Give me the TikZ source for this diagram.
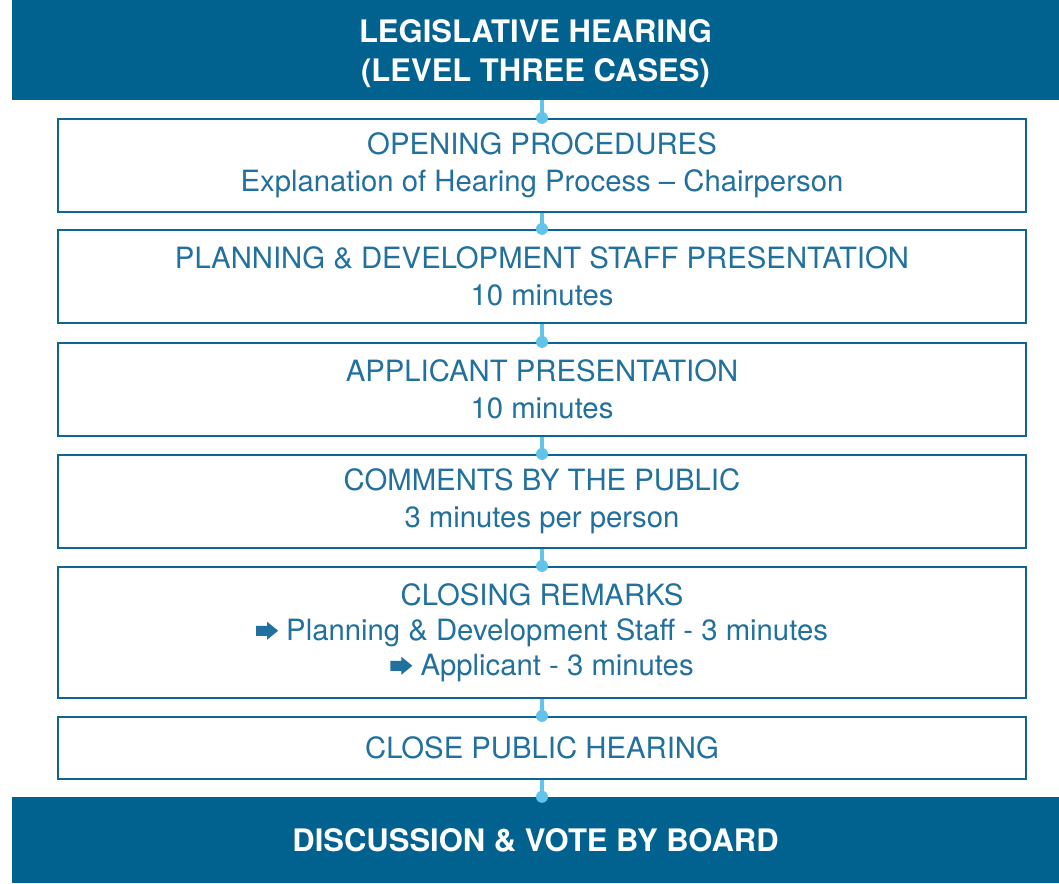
\documentclass[tikz,border=0pt]{standalone}
\usepackage{fontspec}
\setmainfont{TeX Gyre Heros}
\definecolor{bannerblue}{HTML}{02628F}
\definecolor{boxline}{HTML}{0E6591}
\definecolor{boxtext}{HTML}{22709E}
\definecolor{linkblue}{HTML}{62C3EC}
\newcommand{\pointer}{\tikz[x=1pt,y=1pt,baseline=-9.5pt]\fill (0,5)--(11,5)--(11,9)--(22,0)--(11,-9)--(11,-5)--(0,-5)--cycle;\ }

\begin{document}
\begin{tikzpicture}[x=1pt,y=1pt,
  banner/.style={fill=bannerblue, text=white, font=\bfseries\fontsize{31}{39}\selectfont,
    minimum width=1047pt, align=center, inner sep=0pt},
  stage/.style={draw=boxline, line width=2.2pt, fill=white, text=boxtext,
    font=\fontsize{29.3}{37}\selectfont, minimum width=968pt, align=center, inner sep=0pt},
  link/.style={draw=linkblue, line width=4pt},
  joint/.style={fill=linkblue}]
\useasboundingbox (0,0) rectangle (1059,-883);
\node[banner, minimum height=100pt] (head) at (535.5,-50) {\rule{0pt}{31pt}LEGISLATIVE HEARING\\(LEVEL THREE CASES)};
\node[stage, minimum height=93pt] (opening) at (542,-165.5) {OPENING PROCEDURES\\Explanation of Hearing Process -- Chairperson};
\node[stage, minimum height=93pt] (staff) at (542,-276.5) {PLANNING \& DEVELOPMENT STAFF PRESENTATION\\10 minutes};
\node[stage, minimum height=93pt] (applicant) at (542,-389.5) {APPLICANT PRESENTATION\\10 minutes};
\node[stage, minimum height=93pt] (public) at (542,-501.5) {COMMENTS BY THE PUBLIC\\3 minutes per person};
\node[stage, minimum height=131pt, font=\fontsize{29.3}{35}\selectfont] (closing) at (542,-632.5) {CLOSING REMARKS\\\pointer Planning \& Development Staff - 3 minutes\\\pointer Applicant - 3 minutes};
\node[stage, minimum height=62pt] (close) at (542,-748) {CLOSE PUBLIC HEARING};
\node[banner, minimum height=86pt] (vote) at (535.5,-840) {DISCUSSION \& VOTE BY BOARD};
% links between the stages
\foreach \a/\b in {head/opening, opening/staff, staff/applicant, applicant/public,
  public/closing, closing/close, close/vote} {
  \draw[link] (\a.south -| opening.north) -- (\b.north -| opening.north);
  \fill[joint] (\b.north -| opening.north) circle (6pt);
}
\end{tikzpicture}
\end{document}
